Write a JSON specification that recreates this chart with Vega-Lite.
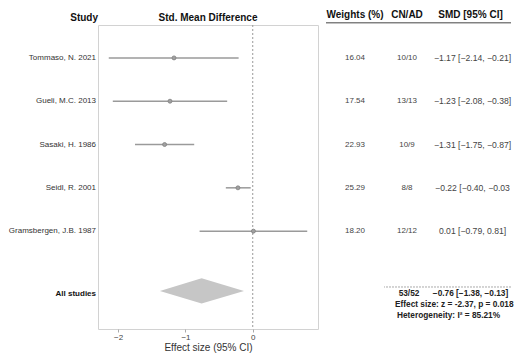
{
  "$schema": "https://vega.github.io/schema/vega-lite/v6.json",
  "padding": {"left": 0, "top": 10, "right": 0, "bottom": 0},
  "background": "white",
  "bounds": "flush",
  "spacing": 0,
  "config": {
    "font": "Liberation Sans",
    "view": {"stroke": null},
    "title": {"fontSize": 10, "fontWeight": "bold", "color": "#111", "offset": 2}
  },
  "datasets": {
    "studies": [
      {"study": "Tommaso, N. 2021", "row": 1, "smd": -1.17, "lo": -2.14, "hi": -0.21, "w": "16.04", "n": "10/10", "ci": "−1.17 [−2.14, −0.21]"},
      {"study": "Gueli, M.C. 2013", "row": 2, "smd": -1.23, "lo": -2.08, "hi": -0.38, "w": "17.54", "n": "13/13", "ci": "−1.23 [−2.08, −0.38]"},
      {"study": "Sasaki, H. 1986", "row": 3, "smd": -1.31, "lo": -1.75, "hi": -0.87, "w": "22.93", "n": "10/9", "ci": "−1.31 [−1.75, −0.87]"},
      {"study": "Seidl, R. 2001", "row": 4, "smd": -0.22, "lo": -0.40, "hi": -0.03, "w": "25.29", "n": "8/8", "ci": "−0.22 [−0.40, −0.03"},
      {"study": "Gramsbergen, J.B. 1987", "row": 5, "smd": 0.01, "lo": -0.79, "hi": 0.81, "w": "18.20", "n": "12/12", "ci": "0.01 [−0.79, 0.81]"}
    ],
    "summary": [
      {"study": "All studies", "row": 6.45, "n": "53/52", "ci": "−0.76 [−1.38, −0.13]", "z": "Effect size: z = -2.37, p = 0.018", "het": "Heterogeneity: I² = 85.21%"}
    ],
    "diamond": [
      {"x": -1.38, "ylo": 6.38, "yhi": 6.38},
      {"x": -0.76, "ylo": 6.09, "yhi": 6.67},
      {"x": -0.13, "ylo": 6.38, "yhi": 6.38}
    ],
    "one": [{"k": 1}]
  },
  "hconcat": [
    {
      "width": 98,
      "height": 304,
      "title": {"text": "Study", "anchor": "end"},
      "layer": [
        {
          "data": {"name": "studies"},
          "mark": {"type": "text", "align": "right", "baseline": "middle", "fontSize": 8, "color": "#333", "dx": -2},
          "encoding": {
            "x": {"value": "width"},
            "y": {"field": "row", "type": "quantitative", "scale": {"domain": [0.24, 7.26], "reverse": true, "nice": false, "zero": false}, "axis": null},
            "text": {"field": "study"}
          }
        },
        {
          "data": {"name": "summary"},
          "mark": {"type": "text", "align": "right", "baseline": "middle", "fontSize": 8, "fontWeight": "bold", "color": "#111", "dx": -2},
          "encoding": {
            "x": {"value": "width"},
            "y": {"field": "row", "type": "quantitative", "scale": {"domain": [0.24, 7.26], "reverse": true, "nice": false, "zero": false}, "axis": null},
            "text": {"field": "study"}
          }
        }
      ]
    },
    {
      "width": 220,
      "height": 304,
      "title": {"text": "Std. Mean Difference", "anchor": "middle"},
      "view": {"stroke": "#d2d2d2", "strokeWidth": 1},
      "layer": [
        {
          "data": {"name": "studies"},
          "mark": {"type": "rule", "color": "#9a9a9a", "strokeWidth": 1.5},
          "encoding": {
            "x": {"field": "lo", "type": "quantitative", "scale": {"domain": [-2.3, 0.97], "nice": false, "zero": false},
              "axis": {"title": "Effect size (95% CI)", "values": [-2, -1, 0], "format": "d", "domain": false, "grid": false, "tickColor": "#aaa", "tickSize": 3, "labelFontSize": 8, "labelColor": "#444", "labelPadding": 1, "titleFontSize": 10, "titleFontWeight": "normal", "titleColor": "#333", "titlePadding": 1}},
            "x2": {"field": "hi"},
            "y": {"field": "row", "type": "quantitative", "scale": {"domain": [0.24, 7.26], "reverse": true, "nice": false, "zero": false}, "axis": null}
          }
        },
        {
          "data": {"name": "one"},
          "mark": {"type": "rule", "color": "#999", "strokeWidth": 1, "strokeDash": [2, 2]},
          "encoding": {"x": {"datum": 0}}
        },
        {
          "data": {"name": "studies"},
          "mark": {"type": "point", "shape": "circle", "filled": true, "fill": "#a0a0a0", "stroke": "#808080", "strokeWidth": 0.8, "size": 16, "opacity": 1},
          "encoding": {
            "x": {"field": "smd", "type": "quantitative"},
            "y": {"field": "row", "type": "quantitative"}
          }
        },
        {
          "data": {"name": "diamond"},
          "mark": {"type": "area", "color": "#c6c6c6", "opacity": 1, "orient": "vertical"},
          "encoding": {
            "x": {"field": "x", "type": "quantitative"},
            "y": {"field": "ylo", "type": "quantitative"},
            "y2": {"field": "yhi"}
          }
        }
      ]
    },
    {
      "width": 8,
      "height": 304,
      "data": {"name": "one"},
      "mark": {"type": "rule", "opacity": 0},
      "encoding": {}
    },
    {
      "width": 58,
      "height": 304,
      "title": {"text": "Weights (%)", "anchor": "middle"},
      "layer": [
        {
          "data": {"name": "one"},
          "mark": {"type": "rule", "color": "#444", "strokeWidth": 1},
          "encoding": {"y": {"datum": 0.19, "type": "quantitative", "scale": {"domain": [0.24, 7.26], "reverse": true, "nice": false, "zero": false}, "axis": null}}
        },
        {
          "data": {"name": "studies"},
          "mark": {"type": "text", "align": "center", "baseline": "middle", "fontSize": 8, "color": "#444"},
          "encoding": {
            "y": {"field": "row", "type": "quantitative"},
            "text": {"field": "w"}
          }
        }
      ]
    },
    {
      "width": 46,
      "height": 304,
      "title": {"text": "CN/AD", "anchor": "middle"},
      "layer": [
        {
          "data": {"name": "one"},
          "mark": {"type": "rule", "color": "#444", "strokeWidth": 1},
          "encoding": {"y": {"datum": 0.19, "type": "quantitative", "scale": {"domain": [0.24, 7.26], "reverse": true, "nice": false, "zero": false}, "axis": null}}
        },
        {
          "data": {"name": "one"},
          "mark": {"type": "rule", "color": "#aaa", "strokeWidth": 1, "strokeDash": [2, 1]},
          "encoding": {"y": {"datum": 6.29, "type": "quantitative"}}
        },
        {
          "data": {"name": "studies"},
          "mark": {"type": "text", "align": "center", "baseline": "middle", "fontSize": 8, "color": "#444"},
          "encoding": {
            "y": {"field": "row", "type": "quantitative"},
            "text": {"field": "n"}
          }
        },
        {
          "data": {"name": "summary"},
          "mark": {"type": "text", "align": "center", "baseline": "middle", "fontSize": 8.3, "fontWeight": "bold", "color": "#222", "dx": 2},
          "encoding": {
            "y": {"field": "row", "type": "quantitative"},
            "text": {"field": "n"}
          }
        },
        {
          "data": {"name": "summary"},
          "mark": {"type": "text", "align": "left", "baseline": "middle", "fontSize": 8.3, "fontWeight": "bold", "color": "#222", "dx": -12, "dy": 11},
          "encoding": {
            "y": {"field": "row", "type": "quantitative"},
            "text": {"field": "z"}
          }
        },
        {
          "data": {"name": "summary"},
          "mark": {"type": "text", "align": "left", "baseline": "middle", "fontSize": 8.3, "fontWeight": "bold", "color": "#222", "dx": -10, "dy": 22.5},
          "encoding": {
            "y": {"field": "row", "type": "quantitative"},
            "text": {"field": "het"}
          }
        }
      ]
    },
    {
      "width": 81,
      "height": 304,
      "title": {"text": "SMD [95% CI]", "anchor": "middle"},
      "layer": [
        {
          "data": {"name": "one"},
          "mark": {"type": "rule", "color": "#444", "strokeWidth": 1},
          "encoding": {"y": {"datum": 0.19, "type": "quantitative", "scale": {"domain": [0.24, 7.26], "reverse": true, "nice": false, "zero": false}, "axis": null}}
        },
        {
          "data": {"name": "one"},
          "mark": {"type": "rule", "color": "#aaa", "strokeWidth": 1, "strokeDash": [2, 1]},
          "encoding": {"y": {"datum": 6.29, "type": "quantitative"}}
        },
        {
          "data": {"name": "studies"},
          "mark": {"type": "text", "align": "center", "baseline": "middle", "fontSize": 8.6, "color": "#444", "dx": 2},
          "encoding": {
            "y": {"field": "row", "type": "quantitative"},
            "text": {"field": "ci"}
          }
        },
        {
          "data": {"name": "summary"},
          "mark": {"type": "text", "align": "center", "baseline": "middle", "fontSize": 8.3, "fontWeight": "bold", "color": "#222"},
          "encoding": {
            "y": {"field": "row", "type": "quantitative"},
            "text": {"field": "ci"}
          }
        }
      ]
    }
  ]
}
